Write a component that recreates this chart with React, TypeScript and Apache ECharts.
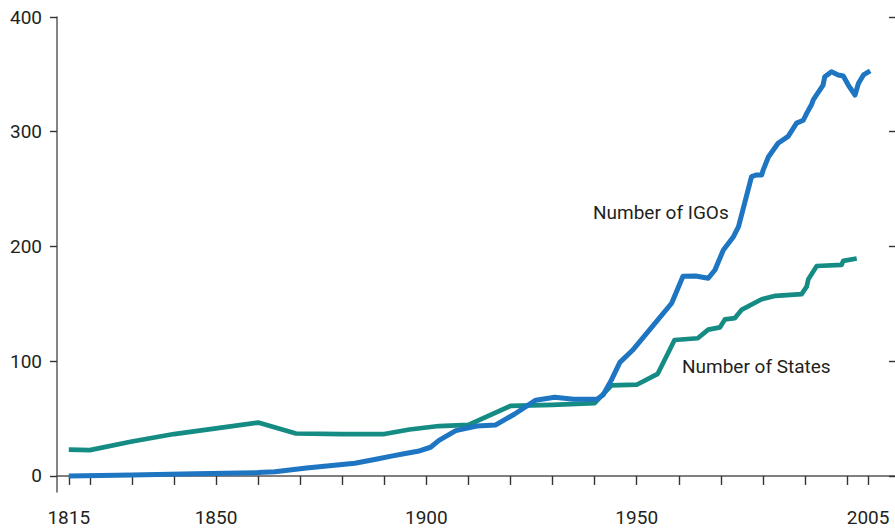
import React, { useEffect, useRef } from "react";
import * as echarts from "echarts";

const igoSeries: [number, number][] = [
  [1815, 0], [1830, 0.8], [1845, 1.8], [1860, 2.9], [1864, 3.6], [1871.5, 7], [1883, 11],
  [1888, 14.5], [1892, 17.5], [1895, 19.5], [1898, 21.5], [1901, 25], [1903, 31], [1907, 39.5],
  [1912, 43.5], [1916.5, 44.5], [1921, 54], [1926, 66], [1930.5, 68.5], [1935, 66.8],
  [1940.5, 66.8], [1942, 70.5], [1944, 83.7], [1946, 99], [1949, 109.5], [1953, 127],
  [1958.3, 150.5], [1961, 174], [1964, 174.3], [1967, 172.3], [1968.6, 179.5], [1970.6, 197],
  [1973, 208.5], [1974.2, 217.3], [1977.3, 260.8], [1978.5, 262.3], [1979.7, 262.3],
  [1980.1, 267], [1981.3, 278], [1983.6, 290], [1986, 296], [1988, 307.5], [1989.6, 310],
  [1990.4, 316], [1991.6, 324], [1992, 328], [1994.3, 340.7], [1994.7, 348], [1996.3, 352.3],
  [1997.9, 349.5], [1999.1, 348.6], [2000.3, 340.7], [2001.9, 332], [2002.7, 342],
  [2003.9, 349.5], [2005.5, 353],
];

const statesSeries: [number, number][] = [
  [1815, 23], [1820, 22.5], [1830, 30], [1840, 36.5], [1850, 41.5], [1860, 46.5], [1869, 37],
  [1880, 36.5], [1890, 36.5], [1896, 40.5], [1903, 43.5], [1910, 44.5], [1920, 61], [1930, 62],
  [1940, 63.5], [1944, 79], [1950, 79.5], [1955, 89], [1959, 118.5], [1964.5, 120],
  [1967, 127.5], [1969.8, 129.5], [1971, 136.5], [1973.3, 137.5], [1975, 145], [1979.7, 154],
  [1983, 157], [1989.2, 158.5], [1990.4, 165], [1990.8, 171.5], [1992.8, 183], [1998.7, 184],
  [1999.1, 187.5], [2002.3, 189.5],
];

const xTickValues = [1815, 1820, 1830, 1840, 1850, 1860, 1870, 1880, 1890, 1900, 1910, 1920, 1930, 1940, 1950, 1960, 1970, 1980, 1990, 2000, 2005];
const xLabelValues = [1815, 1850, 1900, 1950, 2005];
const yTickValues = [0, 100, 200, 300, 400];

const seriesNames = ["Number of IGOs", "Number of States"];
const seriesColors = ["#1e75c1", "#148b83"];

const FONT = "Roboto, 'Liberation Sans', Arial, sans-serif";
const TEXT_COLOR = "#231f20";

export default function App() {
  const ref = useRef<HTMLDivElement>(null);

  useEffect(() => {
    if (!ref.current) return;
    const chart = echarts.init(ref.current, undefined, { renderer: "svg" });
    chart.setOption({
      animation: false,
      backgroundColor: "#ffffff",
      grid: { left: 57, right: 0, top: 17, bottom: 40, containLabel: false, outerBoundsMode: "none" },
      xAxis: {
        type: "value",
        min: 1812.2,
        max: 2011.4,
        axisLine: { show: true, lineStyle: { color: "#555", width: 1.6 } },
        axisTick: { show: true, customValues: xTickValues, length: 9, lineStyle: { color: "#333", width: 1.4 } },
        axisLabel: {
          customValues: xLabelValues,
          margin: 16,
          fontSize: 19,
          fontFamily: FONT,
          color: TEXT_COLOR,
          formatter: (v: number) => String(v),
        },
        splitLine: { show: false },
      },
      yAxis: [
        {
          type: "value",
          min: -14,
          max: 400,
          position: "left",
          axisLine: { show: true, lineStyle: { color: "#666", width: 1.6 } },
          axisTick: { show: true, customValues: yTickValues, length: 7, lineStyle: { color: "#333", width: 1.4 } },
          axisLabel: {
            customValues: yTickValues,
            margin: 15,
            fontSize: 19,
            fontFamily: FONT,
            color: TEXT_COLOR,
          },
          splitLine: { show: false },
        },
        {
          type: "value",
          min: -14,
          max: 400,
          position: "right",
          axisLine: { show: false },
          axisTick: { show: true, inside: true, customValues: yTickValues, length: 6, lineStyle: { color: "#333", width: 1.4 } },
          axisLabel: { show: false },
          splitLine: { show: false },
        },
      ],
      series: [
        {
          name: seriesNames[1],
          type: "line",
          data: statesSeries,
          showSymbol: false,
          lineStyle: { color: seriesColors[1], width: 4.7, join: "round" },
          z: 2,
        },
        {
          name: seriesNames[0],
          type: "line",
          data: igoSeries,
          showSymbol: false,
          lineStyle: { color: seriesColors[0], width: 5, join: "round" },
          z: 3,
        },
      ],
      graphic: [
        {
          type: "text",
          left: 593,
          top: 203,
          style: { text: seriesNames[0], fontSize: 19, fontFamily: FONT, fill: TEXT_COLOR },
        },
        {
          type: "text",
          left: 682,
          top: 357,
          style: { text: seriesNames[1], fontSize: 19, fontFamily: FONT, fill: TEXT_COLOR },
        },
      ],
    });
    return () => chart.dispose();
  }, []);

  return (
    <div
      ref={ref}
      style={{ position: "absolute", left: 0, top: 0, width: 895, height: 532 }}
    />
  );
}
